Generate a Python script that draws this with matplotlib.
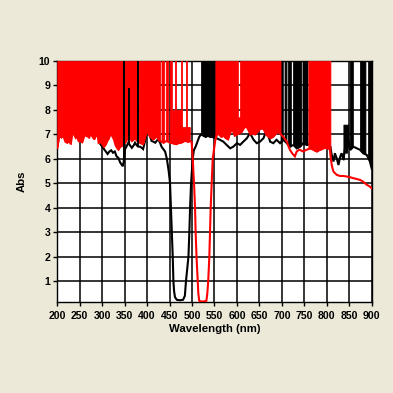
import numpy as np
import matplotlib
matplotlib.use("Agg")
import matplotlib.pyplot as plt

# ---------------- data ----------------
red_wl = [200, 203, 206, 208, 212, 215, 218, 222, 226, 230, 233, 237, 241, 244, 248, 252, 255, 259,
          263, 265, 267, 271, 274, 276, 278, 282, 286, 289, 292, 296, 300, 304, 308, 311, 315, 319,
          323, 326, 330, 333, 336, 340, 343, 347, 351, 355, 358, 362, 366, 370, 373, 377, 381, 384,
          388, 391, 395, 399, 402, 406, 410, 414, 418, 421, 425, 429, 433, 436, 440, 443, 447, 451,
          455, 460, 465, 470, 475, 480, 485, 490, 495, 499, 501.5, 504.4, 506.7, 508, 510, 512.6,
          514, 516, 520, 526, 532, 534, 536, 538.5, 540, 541.5, 543.7, 546, 549, 552, 556, 560,
          565, 570, 575, 580, 585, 590, 595, 600, 605, 610, 615, 620, 625, 630, 635, 640, 645,
          650, 655, 660, 665, 670, 675, 680, 685, 690, 696, 700, 703, 707, 711, 715, 718, 722,
          726, 729, 733, 737, 740, 744, 748, 752, 755, 759, 763, 767, 770, 774, 778, 782, 785,
          789, 792, 796, 800, 804, 807, 809, 811, 813, 815, 818, 822, 826, 830, 837, 844, 852,
          859, 866, 874, 880, 885, 889, 895, 900]
red_abs = [6.45, 6.8, 7.25, 6.86, 6.95, 6.86, 6.7, 6.66, 6.75, 6.6, 7.07, 7.0, 6.86, 6.93, 6.7, 6.8,
           6.66, 6.9, 7.34, 6.9, 7.0, 6.85, 7.48, 6.95, 6.93, 6.8, 6.95, 7.14, 6.66, 6.7, 6.6, 6.5,
           6.6, 6.73, 6.85, 7.1, 6.9, 6.8, 6.55, 6.45, 6.38, 6.5, 6.52, 6.6, 6.66, 6.8, 6.93, 6.85,
           6.73, 6.8, 6.86, 6.75, 6.7, 6.66, 6.62, 6.6, 6.85, 7.14, 7.05, 6.93, 6.85, 6.8, 6.88,
           6.93, 6.8, 6.73, 6.7, 6.66, 6.7, 6.73, 6.7, 6.66, 6.65, 6.62, 6.6, 6.65, 6.66, 6.7, 6.75,
           6.7, 6.72, 6.7, 6.0, 5.0, 4.0, 3.0, 2.0, 1.0, 0.5, 0.2, 0.17, 0.17, 0.2, 0.5, 1.0, 2.0,
           3.0, 4.0, 5.0, 6.0, 6.4, 6.8, 7.05, 7.0, 6.9, 6.95, 6.85, 6.8, 7.1, 7.2, 6.95, 7.0,
           7.05, 7.1, 7.25, 7.35, 7.2, 7.0, 7.05, 7.0, 7.1, 7.2, 7.25, 7.2, 7.0, 6.9, 6.85, 6.9,
           7.0, 7.1, 7.05, 6.95, 6.9, 6.8, 6.7, 6.5, 6.37, 6.25, 6.16, 6.1, 6.3, 6.35, 6.37, 6.33,
           6.3, 6.35, 6.37, 6.4, 6.43, 6.4, 6.37, 6.33, 6.3, 6.35, 6.37, 6.4, 6.43, 6.45, 6.43,
           6.43, 6.37, 6.0, 5.75, 5.6, 5.48, 5.42, 5.35, 5.32, 5.3, 5.3, 5.28, 5.25, 5.21, 5.18,
           5.14, 5.08, 5.0, 4.94, 4.88, 4.8]

black_wl = [296, 300, 304, 308, 312, 316, 320, 324, 328, 332, 336, 340, 343, 346, 348, 351, 354, 358,
            362, 366, 370, 373, 377, 380, 384, 388, 391, 395, 399, 403, 406, 410, 414, 418, 422,
            425, 429, 432, 436, 440, 444, 448, 451, 453, 455, 457, 458.5, 460, 462, 466, 473, 480,
            484, 486.5, 492, 494, 495.6, 497.8, 501.5, 504, 508, 512, 516, 520, 525, 530, 535, 540,
            545, 550, 555, 562, 570, 577, 585, 592, 600, 607, 614, 622, 629, 637, 644, 651, 659,
            666, 674, 681, 688, 696, 703, 711, 718, 726, 733, 740, 748, 755, 760, 770, 780, 790,
            800, 808, 811, 815, 818, 822, 826, 830, 833, 837, 841, 844, 848, 852, 859, 867, 874,
            881, 889, 896, 900]
black_abs = [6.6, 6.5, 6.4, 6.3, 6.2, 6.3, 6.35, 6.25, 6.3, 6.1, 6.04, 5.85, 5.77, 5.7, 5.9, 6.4, 6.5,
             6.66, 6.55, 6.45, 6.55, 6.66, 6.55, 6.5, 6.5, 6.45, 6.4, 6.7, 7.07, 7.2, 6.95, 6.73,
             6.7, 6.66, 6.75, 6.8, 6.65, 6.5, 6.4, 6.3, 6.0, 5.5, 5.0, 4.0, 3.0, 2.0, 1.0, 0.6,
             0.35, 0.24, 0.22, 0.24, 0.4, 1.0, 2.0, 3.0, 4.0, 5.0, 6.0, 6.35, 6.5, 6.7, 6.9, 7.0,
             6.95, 6.9, 6.95, 6.9, 6.9, 6.85, 6.84, 6.78, 6.7, 6.57, 6.43, 6.5, 6.64, 6.57, 6.7,
             6.84, 7.05, 6.78, 6.64, 6.7, 6.84, 7.18, 6.7, 6.64, 6.78, 6.64, 6.78, 6.64, 6.5, 6.57,
             6.43, 6.5, 6.64, 6.57, 6.6, 6.6, 6.6, 6.6, 6.6, 6.5, 6.16, 5.89, 6.23, 6.03, 5.75,
             6.1, 6.23, 5.96, 6.5, 6.23, 6.8, 6.37, 6.5, 6.43, 6.37, 6.23, 6.16, 5.89, 5.6]

# saturated (off-scale) regions: (start nm, end nm, top Abs)
red_bands = [(200, 346, 10), (349, 378, 10), (381, 429, 10), (432, 438, 10), (442, 447, 10),
             (451, 455, 10), (455, 476, 8.0), (476, 495, 7.3), (552, 602, 10), (602, 607, 7.7),
             (607, 697, 10), (759, 808, 10)]
red_spikes = [(464, 10), (477, 10), (488, 10)]
black_bands = [(520, 551, 10), (697, 702, 10), (706, 710, 10), (713, 720, 10), (725, 743, 10),
               (746, 757, 10), (837, 848, 7.4), (851, 858, 10), (874, 886, 10), (892, 900, 10)]
black_spikes = [(347.5, 10), (379.5, 10), (360, 8.9)]

x_ticks = list(range(200, 901, 50))
y_ticks = list(range(1, 11))

# ---------------- drawing ----------------
BG = "#ece9d8"
fig = plt.figure(figsize=(3.93, 3.93), dpi=100, facecolor=BG)
ax = fig.add_axes([0.1458, 0.2316, 0.8, 0.6132])
ax.set_facecolor("white")


def draw_series(wl, ab, bands, spikes, color, z):
    wl = np.asarray(wl, float)
    ab = np.asarray(ab, float)
    ax.plot(wl, ab, color=color, lw=1.5, zorder=z, solid_joinstyle="miter")
    for a, b, top in bands:
        inner = (wl > a) & (wl < b)
        xs = np.concatenate([[a], wl[inner], [b]])
        ys = np.concatenate([[np.interp(a, wl, ab)], ab[inner], [np.interp(b, wl, ab)]])
        ax.fill_between(xs, ys, top, facecolor=color, edgecolor=color, lw=0.6, zorder=z)
    for x, top in spikes:
        ax.vlines(x, np.interp(x, wl, ab), top, color=color, lw=1.3, zorder=z)


draw_series(black_wl, black_abs, black_bands, [], "black", 3)
draw_series(red_wl, red_abs, red_bands, red_spikes, "#ff0000", 4)
# black spikes showing through gaps of the red band
for x, top in black_spikes:
    ax.vlines(x, np.interp(x, black_wl, black_abs), top, color="black", lw=1.4, zorder=5)

ax.set_xlim(200, 900)
ax.set_ylim(0.15, 10)
ax.set_xticks(x_ticks)
ax.set_yticks(y_ticks)
ax.set_xticklabels([str(t) for t in x_ticks])
ax.set_yticklabels([str(t) for t in y_ticks])

ax.set_axisbelow(True)
ax.grid(True, color="black", lw=1.1)
for s in ax.spines.values():
    s.set_color("black")
    s.set_linewidth(1.0)

font = "Liberation Sans"
ax.tick_params(axis="x", length=3, width=1, pad=3.5, labelsize=7.6, direction="out")
ax.tick_params(axis="y", length=3, width=1, pad=2, labelsize=7.6, direction="out")
for lab in ax.get_xticklabels() + ax.get_yticklabels():
    lab.set_fontfamily(font)
    lab.set_fontweight("bold")

ax.set_xlabel("Wavelength (nm)", fontsize=8.2, fontweight="bold", family=font, labelpad=2.5)
ax.set_ylabel("Abs", fontsize=8.2, fontweight="bold", family=font, labelpad=9)

fig.savefig("out.png", dpi=100, facecolor=BG)
